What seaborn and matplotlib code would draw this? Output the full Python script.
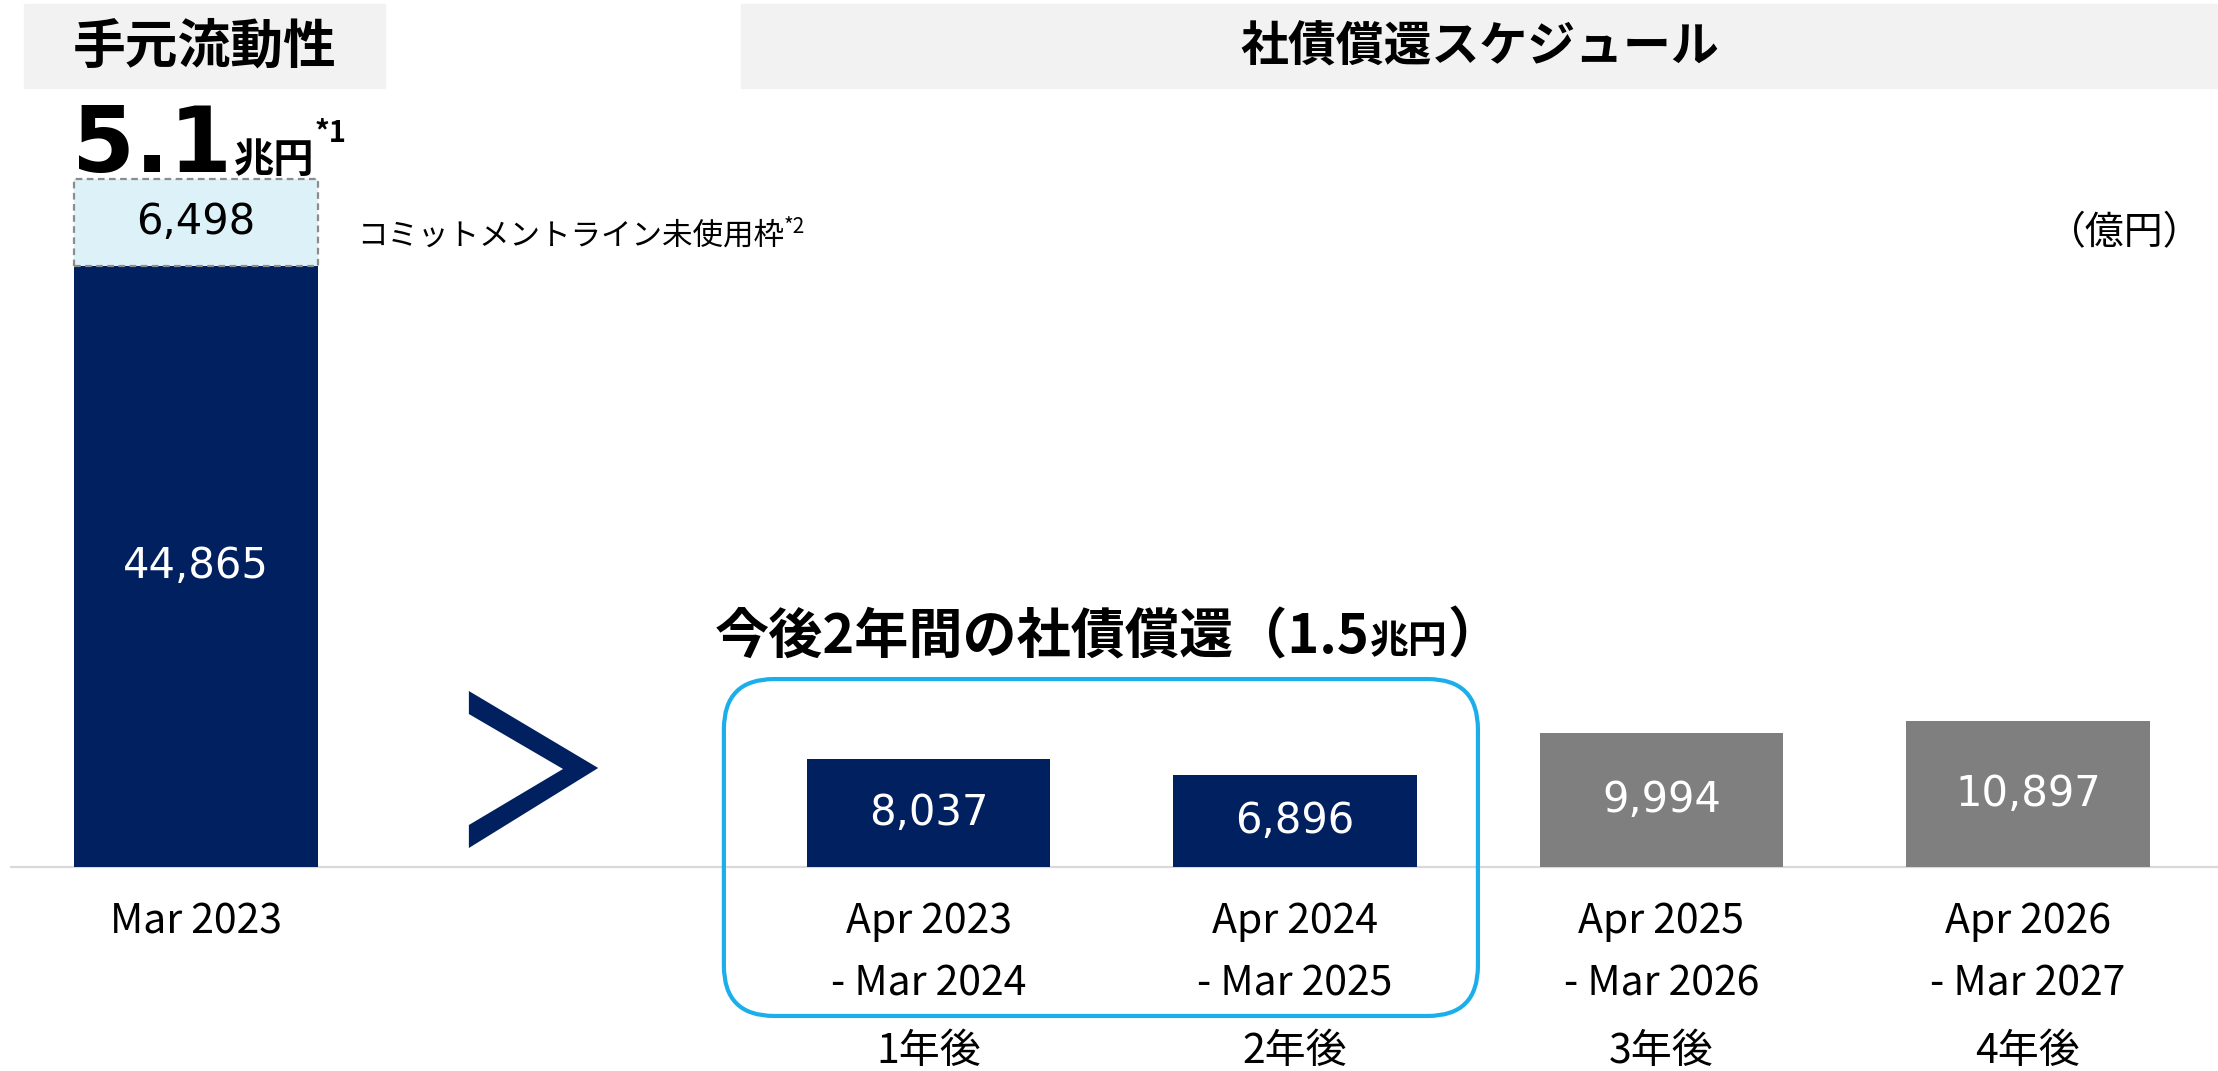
import matplotlib
matplotlib.use("Agg")
import matplotlib.pyplot as plt
from matplotlib.patches import Rectangle, FancyBboxPatch, Polygon
import numpy as np
import pandas as pd
import seaborn as sns

# data (億円)
liquidity_date = "Mar 2023"
cash_on_hand = 44865
commit_line_unused = 6498
liquidity_total_label = "5.1"

bond_start = ["Apr 2023", "Apr 2024", "Apr 2025", "Apr 2026"]
bond_end = ["- Mar 2024", "- Mar 2025", "- Mar 2026", "- Mar 2027"]
bond_years = ["1年後", "2年後", "3年後", "4年後"]
bond_redemption = [8037, 6896, 9994, 10897]

NAVY = "#002060"
GRAY = "#7F7F7F"
LIGHT = "#DDF2F8"
CYAN = "#1AAEEA"

sns.set_style("white")
plt.rcParams["font.family"] = ["Noto Sans CJK JP", "DejaVu Sans"]
plt.rcParams["text.color"] = "black"

W, H, DPI = 2218, 1071, 100
fig = plt.figure(figsize=(W / DPI, H / DPI), dpi=DPI)
ax = fig.add_axes([0, 0, 1, 1])

# x: one unit per bar slot, y: 億円
px_x = 366.4          # pixels per x unit
px_y = 1 / 74.65      # pixels per 億円
base_px = 867         # baseline from top
x0_px = 195.9
ax.set_xlim(-x0_px / px_x, (W - x0_px) / px_x)
ax.set_ylim(-(H - base_px) / px_y, base_px / px_y)

bond_pos = 2 + np.arange(len(bond_redemption))
df = pd.DataFrame({
    "pos": np.concatenate([[0], bond_pos]),
    "value": [cash_on_hand] + bond_redemption,
    "group": ["liquidity"] + bond_years,
})
palette = [NAVY, NAVY, NAVY, GRAY, GRAY]
sns.barplot(data=df, x="pos", y="value", hue="group", palette=palette,
            native_scale=True, width=0.664, dodge=False, legend=False,
            errorbar=None, saturation=1, linewidth=0, ax=ax)

for cont in ax.containers:
    ax.bar_label(cont, fmt="{:,.0f}", label_type="center", color="white",
                 fontsize=30, family="DejaVu Sans")

# unused commitment line stacked on top
light = ax.bar(0, commit_line_unused, bottom=cash_on_hand, width=0.664,
               color=LIGHT, edgecolor="#8C8C8C", linestyle=(0, (3, 2)),
               linewidth=1.6)
ax.bar_label(light, fmt="{:,.0f}", label_type="center", color="black",
             fontsize=30, family="DejaVu Sans")

ax.set_axis_off()
ax.axhline(0, xmin=0.005, xmax=1, color="#D9D9D9", lw=1.6, zorder=0)

# category labels
lab_kw = dict(textcoords="offset points", ha="center", va="center", fontsize=29.5)
ax.annotate(liquidity_date, (0, 0), xytext=(0, -39.6), **lab_kw)
for x, s, e, y in zip(bond_pos, bond_start, bond_end, bond_years):
    ax.annotate(s, (x, 0), xytext=(0, -39.6), **lab_kw)
    ax.annotate(e, (x, 0), xytext=(0, -84.5), **lab_kw)
    ax.annotate(y, (x, 0), xytext=(0, -132.5), **lab_kw)

# rounded box around the next two years
bx0, bx1 = bond_pos[0] - 0.559, bond_pos[1] + 0.499
by0, by1 = -11120, 14030
box = FancyBboxPatch((bx0, by0), bx1 - bx0, by1 - by0,
                     boxstyle="round,pad=0,rounding_size=0.137",
                     mutation_aspect=74.65 * px_x, fill=False,
                     edgecolor=CYAN, lw=3, zorder=5)
ax.add_patch(box)

# chevron between liquidity and schedule
chev = Polygon([(0.745, 13138), (1.098, 7390), (0.745, 1418), (0.745, 3135),
                (1.002, 7316), (0.745, 11421)], closed=True, color=NAVY, lw=0)
ax.add_patch(chev)

# header boxes
fig.patches.append(Rectangle((24 / W, 1 - 88 / H), (385 - 24) / W, 84 / H,
                             transform=fig.transFigure, color="#F2F2F2", zorder=0))
fig.patches.append(Rectangle((741 / W, 1 - 88 / H), (W - 741) / W, 84 / H,
                             transform=fig.transFigure, color="#F2F2F2", zorder=0))
fig.text(205 / W, 1 - 47 / H, "手元流動性", ha="center", va="center",
         fontsize=38, fontweight="bold")
fig.text(1480 / W, 1 - 47 / H, "社債償還スケジュール", ha="center", va="center",
         fontsize=34.5, fontweight="bold")

renderer = fig.canvas.get_renderer()


def text_run(pieces, x_px, y_px):
    # lay out text pieces left to right on a common baseline
    x = x_px
    for s, kw, dy in pieces:
        t = fig.text(x / W, 1 - (y_px - dy) / H, s, va="baseline", ha="left", **kw)
        x += t.get_window_extent(renderer).width


text_run([
    (liquidity_total_label, dict(fontsize=65, fontweight="bold", family="DejaVu Sans"), 0),
    (" ", dict(fontsize=7), 0),
    ("兆円", dict(fontsize=29, fontweight="bold"), 0),
    ("*1", dict(fontsize=21, fontweight="bold"), 30),
], 72, 172)

text_run([
    ("コミットメントライン未使用枠", dict(fontsize=22), 0),
    ("*2", dict(fontsize=15), 12),
], 357, 245)

fig.text(2202 / W, 1 - 233 / H, "（億円）", ha="right", va="center", fontsize=28)

text_run([
    ("今後2年間の社債償還（1.5", dict(fontsize=39, fontweight="bold"), 0),
    ("兆円", dict(fontsize=28, fontweight="bold"), 0),
    ("）", dict(fontsize=39, fontweight="bold"), 0),
], 715, 653)

fig.savefig("out.png", dpi=DPI)
